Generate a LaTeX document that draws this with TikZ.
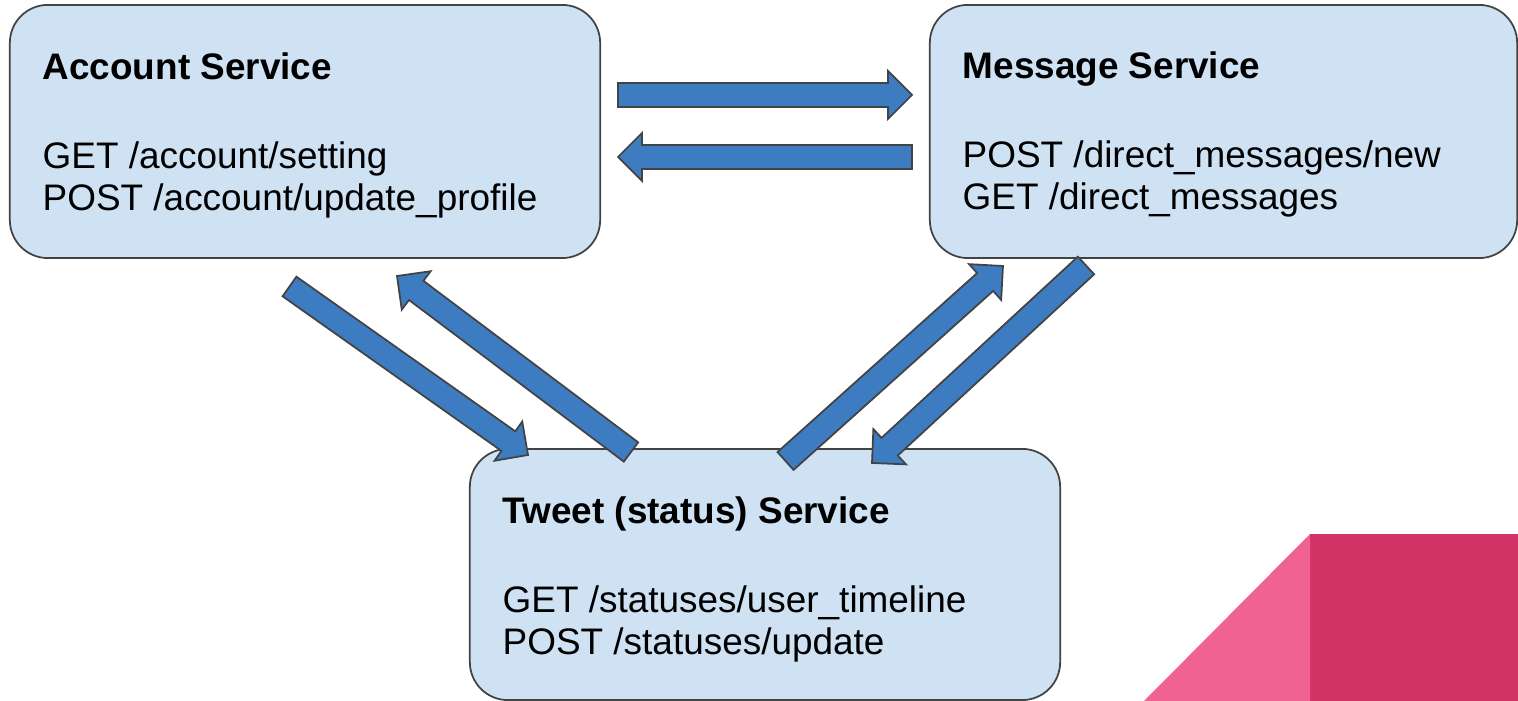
\documentclass[tikz,border=0pt]{standalone}
\usepackage{fontspec}
\setmainfont{Liberation Sans}
\usetikzlibrary{calc,positioning}
\definecolor{boxfill}{HTML}{CFE2F3}
\definecolor{edgegray}{HTML}{434343}
\definecolor{arrowblue}{HTML}{3D7CC0}
\definecolor{pinklight}{HTML}{F06292}
\definecolor{pinkdark}{HTML}{D13366}
\tikzset{%
	service/.style  = {draw=edgegray, fill=boxfill, line width=0.5pt, rectangle, rounded corners=0.38cm, minimum width=5.9cm, minimum height=2.53cm},
	srvtext/.style  = {anchor=north west, inner sep=0pt, align=left, font=\fontsize{10.5}{12.2}\selectfont},
	blockarrow/.style = {draw=edgegray, fill=arrowblue, line width=0.5pt, line join=miter},
}
% block arrow from tail #1 to tip #2
\newcommand{\bigarrow}[2]{%
	\coordinate (hb) at ($(#2)!0.24cm!(#1)$);
	\filldraw[blockarrow] ($(#1)!0.12cm!90:(#2)$) -- ($(hb)!0.12cm!90:(#2)$) -- ($(hb)!0.24cm!90:(#2)$) -- (#2)
		-- ($(hb)!0.24cm!-90:(#2)$) -- ($(hb)!0.12cm!-90:(#2)$) -- ($(#1)!0.12cm!-90:(#2)$) -- cycle;}

\begin{document}
\begin{tikzpicture}[x=0.01cm,y=-0.01cm]
	\useasboundingbox (0,0) rectangle (1518,701);
	% corner decoration
	\fill[pinkdark] (1310,534) rectangle (1518,701);
	\fill[pinklight] (1144,701) -- (1310,534) -- (1310,701) -- cycle;
	% services
	\node[service] (acct) at (305,131.5) {};
	\node[service, minimum width=5.87cm] (msg) at (1223.5,131.5) {};
	\node[service, minimum height=2.51cm] (tweet) at (765,574.5) {};
	\node[srvtext] (acct txt) at (42,52) {\textbf{Account Service}\\[13pt] GET /account/setting\\ POST /account/update\_profile};
	\node[srvtext] (msg txt) at (962,51) {\textbf{Message Service}\\[13pt] POST /direct\_messages/new\\ GET /direct\_messages};
	\node[srvtext] (tweet txt) at (502,496) {\textbf{Tweet (status) Service}\\[13pt] GET /statuses/user\_timeline\\ POST /statuses/update};
	% arrow ends
	\coordinate (a2m tail) at (618,95);     \coordinate (a2m tip) at (912,95);
	\coordinate (m2a tail) at (912,157);    \coordinate (m2a tip) at (618,157);
	\coordinate (a2t tail) at (289.5,286.5); \coordinate (a2t tip) at (528,455);
	\coordinate (t2a tail) at (631,452);    \coordinate (t2a tip) at (397,276);
	\coordinate (t2m tail) at (785.5,461);  \coordinate (t2m tip) at (1003,266);
	\coordinate (m2t tail) at (1086,265.5); \coordinate (m2t tip) at (872,463);
	\bigarrow{a2m tail}{a2m tip}
	\bigarrow{m2a tail}{m2a tip}
	\bigarrow{a2t tail}{a2t tip}
	\bigarrow{t2a tail}{t2a tip}
	\bigarrow{t2m tail}{t2m tip}
	\bigarrow{m2t tail}{m2t tip}
\end{tikzpicture}
\end{document}
